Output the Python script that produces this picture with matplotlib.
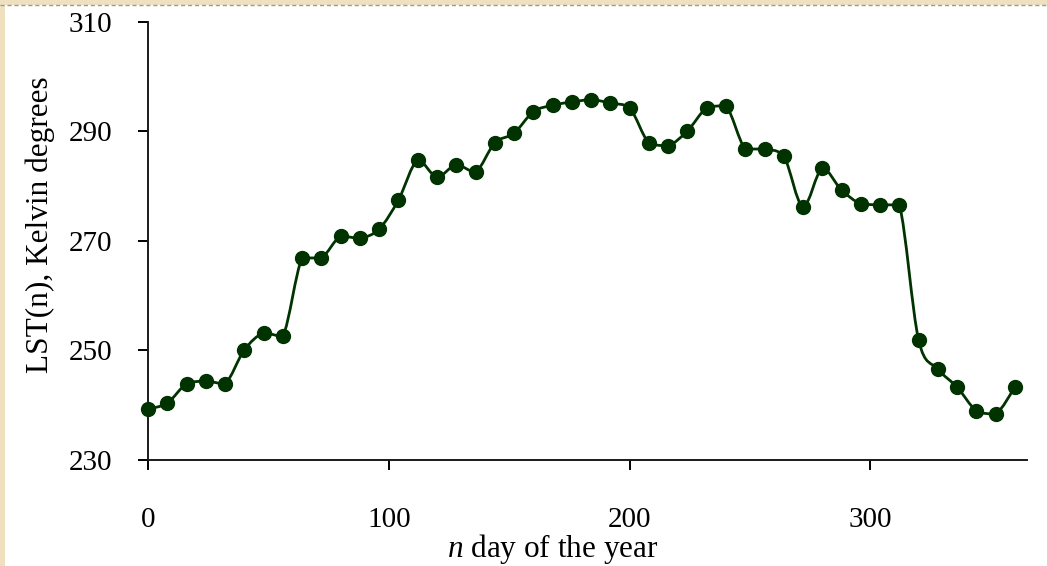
import numpy as np
import matplotlib
matplotlib.use("Agg")
import matplotlib.pyplot as plt
from matplotlib.path import Path
from matplotlib.patches import PathPatch, Rectangle
from matplotlib.lines import Line2D

# 8-day land surface temperature over one year
days = [0, 8, 16, 24, 32, 40, 48, 56, 64, 72, 80, 88, 96, 104, 112, 120,
        128, 136, 144, 152, 160, 168, 176, 184, 192, 200, 208, 216, 224, 232,
        240, 248, 256, 264, 272, 280, 288, 296, 304, 312, 320, 328, 336, 344,
        352, 360]
lst = [239.3, 240.4, 243.9, 244.4, 243.9, 250.1, 253.2, 252.6, 266.9, 266.9,
       270.9, 270.5, 272.2, 277.5, 284.8, 281.7, 283.9, 282.6, 287.9, 289.7,
       293.6, 294.8, 295.4, 295.8, 295.2, 294.3, 287.9, 287.4, 290.1, 294.3,
       294.7, 286.8, 286.8, 285.5, 276.2, 283.3, 279.3, 276.8, 276.6, 276.6,
       251.9, 246.6, 243.3, 239.0, 238.4, 243.3]
xticks = [0, 100, 200, 300]
yticks = [230, 250, 270, 290, 310]

green = "#003300"
plt.rcParams["font.family"] = ["Liberation Serif", "DejaVu Serif"]
plt.rcParams["mathtext.fontset"] = "custom"
plt.rcParams["mathtext.rm"] = "Liberation Serif"
plt.rcParams["mathtext.it"] = "Liberation Serif:italic"

fig = plt.figure(figsize=(10.47, 5.66), dpi=100)
fig.patch.set_facecolor("#efe1c0")
# white page with a dashed edge along the top
fig.patches.append(Rectangle((5 / 1047, 0), 1, 1 - 5 / 566, transform=fig.transFigure,
                             facecolor="white", edgecolor="none", zorder=-2))
fig.lines.append(Line2D([0, 1], [1 - 5 / 566] * 2, transform=fig.transFigure,
                        color="#9a9a9a", lw=1.0, ls=(0, (3, 2)), zorder=-1))

ax = fig.add_axes([148 / 1047, 1 - 460 / 566, (1027 - 148) / 1047, (460 - 22) / 566])
ax.set_facecolor("none")

# smoothed connecting line: cardinal spline as bezier segments,
# control points kept inside each segment's y-range so it never overshoots
x = np.array(days, float)
y = np.array(lst, float)
xp = np.concatenate([[x[0]], x, [x[-1]]])
yp = np.concatenate([[y[0]], y, [y[-1]]])
verts = [(x[0], y[0])]
codes = [Path.MOVETO]
for i in range(len(x) - 1):
    lo, hi = min(y[i], y[i + 1]), max(y[i], y[i + 1])
    c1 = (x[i] + (xp[i + 2] - xp[i]) / 6,
          np.clip(y[i] + (yp[i + 2] - yp[i]) / 6, lo, hi))
    c2 = (x[i + 1] - (xp[i + 3] - xp[i + 1]) / 6,
          np.clip(y[i + 1] - (yp[i + 3] - yp[i + 1]) / 6, lo, hi))
    verts += [c1, c2, (x[i + 1], y[i + 1])]
    codes += [Path.CURVE4] * 3
ax.add_patch(PathPatch(Path(verts, codes), facecolor="none", edgecolor=green,
                       lw=2.0, zorder=2, clip_on=False))
ax.plot(days, lst, ls="none", marker="o", ms=10, color=green, zorder=3, clip_on=False)

ax.set_xlim(0, 365)
ax.set_ylim(230, 310)
ax.set_xticks(xticks)
ax.set_yticks(yticks)
for s in ["top", "right"]:
    ax.spines[s].set_visible(False)
for s in ["left", "bottom"]:
    ax.spines[s].set_linewidth(1.4)
    ax.spines[s].set_color("#1a1a1a")
ax.tick_params(axis="x", direction="out", length=7, width=1.4, pad=27, labelsize=21)
ax.tick_params(axis="y", direction="out", length=7, width=1.4, pad=19, labelsize=21)

ax.set_ylabel("LST(n), Kelvin degrees", fontsize=22.5)
ax.set_xlabel(r"$\mathit{n}$ day of the year", fontsize=22.5)
ax.yaxis.set_label_coords(-0.106, 0.537)
ax.xaxis.set_label_coords(0.461, -0.165)

fig.savefig("out.png", dpi=100, facecolor=fig.get_facecolor())
